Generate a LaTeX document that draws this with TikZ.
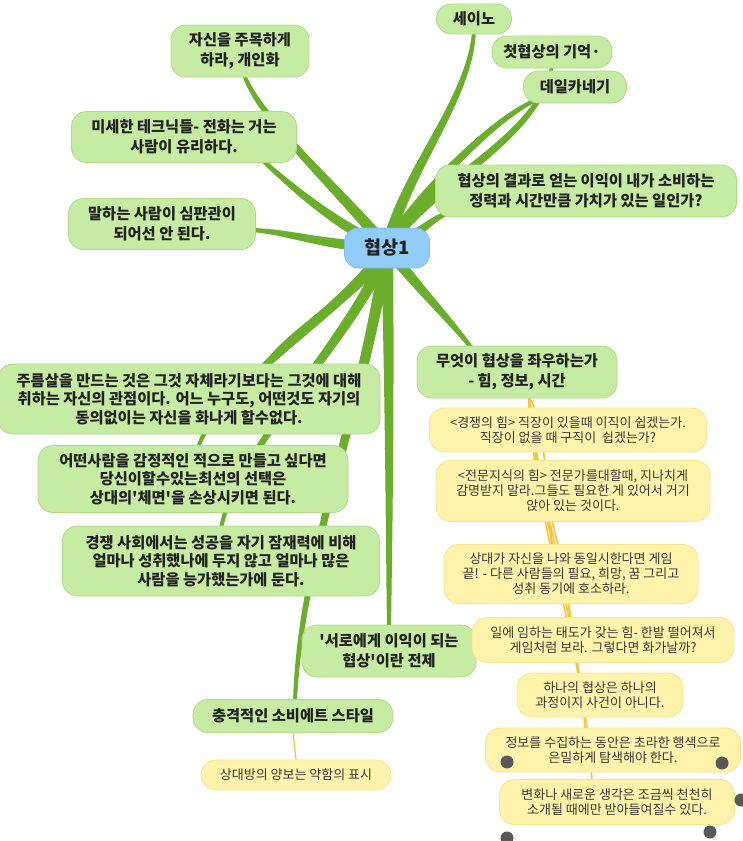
\documentclass[tikz,border=0pt]{standalone}
\usepackage{fontspec}
\setmainfont{Noto Sans CJK KR}[Ligatures=TeXOff]
\usetikzlibrary{calc,backgrounds}
\definecolor{limbgreen}{HTML}{6BAE2C}
\definecolor{leafgreen}{HTML}{C6EBA2}
\definecolor{leafedge}{HTML}{ADDC85}
\definecolor{rootblue}{HTML}{92CDF9}
\definecolor{rootedge}{HTML}{78BDEE}
\definecolor{notefill}{HTML}{FFF3AC}
\definecolor{noteedge}{HTML}{F6E48F}
\definecolor{twiggold}{HTML}{F3C43C}
\definecolor{ink}{HTML}{222222}
\newcommand{\limb}[4]{%
	\fill[limb] let \p1=($(#4)-(#1)$), \n1={atan2(\y1,\x1)+90} in
		($(#1)+(\n1:6pt)$) .. controls ($(#2)+(\n1:4.6pt)$) and ($(#3)+(\n1:3.2pt)$) .. ($(#4)+(\n1:2pt)$)
		-- ($(#4)-(\n1:2pt)$) .. controls ($(#3)-(\n1:3.2pt)$) and ($(#2)-(\n1:4.6pt)$) .. ($(#1)-(\n1:6pt)$) -- cycle;}

\begin{document}
\begin{tikzpicture}
			[x=1pt, y=-1pt, align=center, text=ink,
			topic/.style={draw=rootedge, fill=rootblue, rounded corners=14pt, line width=0.8pt, font=\fontsize{18.5}{20}\selectfont\bfseries, minimum width=85pt, minimum height=40pt},
			leaf/.style={draw=leafedge, fill=leafgreen, rounded corners=15pt, line width=0.8pt, font=\fontsize{15.3}{20}\selectfont\bfseries, inner sep=2pt},
			thick leaf/.style={leaf, font=\fontsize{15.3}{18.7}\selectfont\bfseries},
			note/.style={draw=noteedge, fill=notefill, rounded corners=15pt, line width=0.8pt, font=\fontsize{13}{15}\selectfont, text=ink!90, inner sep=2pt},
			limb/.style={fill=limbgreen},
			twig/.style={draw=twiggold, line width=1.6pt}]
			\useasboundingbox (0,0) rectangle (743,841);
			\node[topic] (r) at (387,248) {협상1};
			\node[leaf, minimum width=75pt, minimum height=30pt] (g1) at (474,19) {세이노};
			\node[leaf, minimum width=120pt, minimum height=32pt] (g2) at (552,52) {첫협상의 기억·};
			\node[leaf, minimum width=103pt, minimum height=32pt] (g3) at (575,87) {데일카네기};
			\node[leaf, minimum width=301pt, minimum height=52pt] (g4) at (586,191) {협상의 결과로 얻는 이익이 내가 소비하는\\정력과 시간만큼 가치가 있는 일인가?};
			\node[leaf, minimum width=138pt, minimum height=52pt] (g5) at (240,51) {자신을 주목하게\\하라, 개인화};
			\node[leaf, minimum width=225pt, minimum height=51pt] (g6) at (184,137) {미세한 테크닉들- 전화는 거는\\사람이 유리하다.};
			\node[leaf, minimum width=187pt, minimum height=51pt] (g7) at (162,224) {말하는 사람이 심판관이\\되어선 안 된다.};
			\node[leaf, minimum width=200pt, minimum height=52pt] (g8) at (517,372) {무엇이 협상을 좌우하는가\\- 힘, 정보, 시간};
			\node[thick leaf, minimum width=382pt, minimum height=70pt] (g9) at (189,399) {주름살을 만드는 것은 그것 자체라기보다는 그것에 대해\\취하는 자신의 관점이다. 어느 누구도, 어떤것도 자기의\\동의없이는 자신을 화나게 할수없다.};
			\node[thick leaf, minimum width=310pt, minimum height=67pt] (g10) at (193,479) {어떤사람을 감정적인 적으로 만들고 싶다면\\당신이할수있는최선의 선택은\\상대의'체면'을 손상시키면 된다.};
			\node[thick leaf, minimum width=317pt, minimum height=70pt] (g11) at (221,561) {경쟁 사회에서는 성공을 자기 잠재력에 비해\\얼마나 성취했나에 두지 않고 얼마나 많은\\사람을 능가했는가에 둔다.};
			\node[leaf, minimum width=174pt, minimum height=52pt] (g12) at (389,651) {'서로에게 이익이 되는\\협상'이란 전제};
			\node[leaf, minimum width=200pt, minimum height=33pt] (g13) at (293,716) {충격적인 소비에트 스타일};
			\node[note, minimum width=277pt, minimum height=44pt] (y1) at (568,430) {<경쟁의 힘> 직장이 있을때 이직이 쉽겠는가.\\직장이 없을 때 구직이~ 쉽겠는가?};
			\node[note, minimum width=274pt, minimum height=61pt] (y2) at (573,491) {<전문지식의 힘> 전문가를대할때, 지나치게\\감명받지 말라.그들도 필요한 게 있어서 거기\\앉아 있는 것이다.};
			\node[note, minimum width=254pt, minimum height=59pt] (y3) at (571,574) {상대가 자신을 나와 동일시한다면 게임\\끝! - 다른 사람들의 필요, 희망, 꿈 그리고\\성취 동기에 호소하라.};
			\node[note, minimum width=262pt, minimum height=45pt] (y4) at (603,640) {일에 임하는 태도가 갖는 힘- 한발 떨어져서\\게임처럼 보라. 그렇다면 화가날까?};
			\node[note, minimum width=166pt, minimum height=44pt] (y5) at (600,695) {하나의 협상은 하나의\\과정이지 사건이 아니다.};
			\node[note, minimum width=255pt, minimum height=44pt] (y6) at (613,750) {정보를 수집하는 동안은 초라한 행색으로\\은밀하게 탐색해야 한다.};
			\node[note, minimum width=235pt, minimum height=45pt] (y7) at (617,802) {변화나 새로운 생각은 조금씩 천천히\\소개될 때에만 받아들여질수 있다.};
			\node[note, minimum width=190pt, minimum height=30pt] (y8) at (296,775) {상대방의 양보는 약함의 표시};
			\begin{pgfonlayer}{background}
				\fill[white] (0,0) rectangle (743,841);
				\limb{r}{405,170}{470,100}{[yshift=3pt]g1.south}
				\limb{r}{420,190}{540,140}{[yshift=3pt]g2.south}
				\limb{r}{415,200}{490,120}{[xshift=-38pt,yshift=4pt]g3.south}
				\limb{r}{415,240}{430,218}{[xshift=-136pt,yshift=5pt]g4.south}
				\limb{r}{340,190}{260,120}{[xshift=4pt,yshift=3pt]g5.south}
				\limb{r}{335,225}{290,185}{[xshift=78pt,yshift=3pt]g6.south}
				\limb{r}{320,245}{290,232}{[xshift=-4pt,yshift=-6pt]g7.east}
				\limb{r}{420,290}{450,320}{[xshift=-45pt,yshift=-3pt]g8.north}
				\limb{r}{355,300}{290,330}{[xshift=75pt,yshift=-3pt]g9.north}
				\limb{r}{345,310}{215,390}{[xshift=5pt,yshift=-3pt]g10.north}
				\limb{r}{360,330}{235,450}{[yshift=-3pt]g11.north}
				\limb{r}{390,400}{389,550}{[yshift=-3pt]g12.north}
				\limb{r}{360,420}{300,560}{[xshift=2pt,yshift=-3pt]g13.north}
				\draw[twig] ([xshift=12pt,yshift=4pt]g8.south) .. controls +(1,6) and +(-1,-6) .. ([xshift=-33pt,yshift=-3pt]y1.north);
				\draw[twig] ([xshift=12pt,yshift=4pt]g8.south) .. controls +(2,25) and +(-2,-25) .. ([xshift=-28pt,yshift=-3pt]y2.north);
				\draw[twig] ([xshift=12pt,yshift=4pt]g8.south) .. controls +(2,50) and +(-3,-50) .. ([xshift=-19pt,yshift=-3pt]y3.north);
				\draw[twig] ([xshift=12pt,yshift=4pt]g8.south) .. controls +(2,70) and +(-4,-70) .. ([xshift=-33pt,yshift=-3pt]y4.north);
				\draw[twig] ([xshift=12pt,yshift=4pt]g8.south) .. controls +(2,90) and +(-4,-90) .. ([xshift=-22pt,yshift=-3pt]y5.north);
				\draw[twig] ([xshift=12pt,yshift=4pt]g8.south) .. controls +(2,100) and +(-5,-110) .. ([xshift=-28pt,yshift=-3pt]y6.north);
				\draw[twig] ([xshift=12pt,yshift=4pt]g8.south) .. controls +(2,120) and +(-6,-130) .. ([xshift=-25pt,yshift=-3pt]y7.north);
				\draw[twig, line width=1.2pt] (g13.south) -- (y8.north);
			\end{pgfonlayer}
			\fill[gray!70!black] (507,762) circle (6.5pt) (722,763) circle (6.5pt) (741,800) circle (6.5pt) (710,832) circle (6.5pt) (507,838) circle (6.5pt);
		\end{tikzpicture}
\end{document}
